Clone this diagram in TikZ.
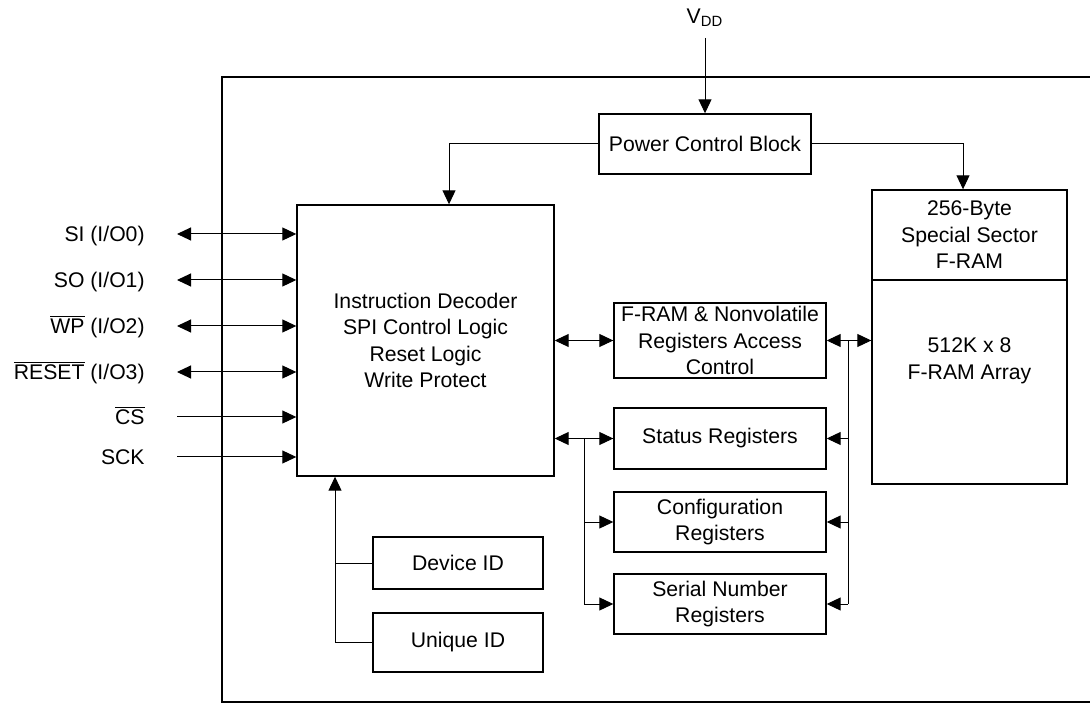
\documentclass[tikz,border=0pt]{standalone}
\usepackage{fontspec}
\setmainfont{Liberation Sans}
\usetikzlibrary{arrows.meta}
\newcommand{\ovl}[1]{$\overline{\hbox{#1}}$}

\begin{document}
\begin{tikzpicture}[x=0.5pt,y=-0.5pt,
    font=\fontsize{10.6}{13.2}\selectfont,
    blk/.style={draw,line width=0.7pt,align=center,inner sep=0pt},
    wire/.style={line width=0.5pt},
    arr/.style={wire,-{Triangle[length=7pt,width=6.5pt]}},
    dbl/.style={wire,{Triangle[length=7pt,width=6.5pt]}-{Triangle[length=7pt,width=6.5pt]}},
    pin/.style={anchor=east,inner sep=0pt,text height=7.6pt,text depth=0pt}]
  \useasboundingbox (0,0) rectangle (1090,704);
  \draw[line width=0.8pt](1090,77)--(222,77)--(222,702)--(1090,702);
  % blocks
  \node[blk,minimum width=106pt,minimum height=30pt](pcb) at (705,144) {Power Control Block};
  \node[blk,minimum width=128.5pt,minimum height=135.5pt](ctl) at (425.5,340.5)
    {Instruction Decoder\\SPI Control Logic\\Reset Logic\\Write Protect};
  \node[blk,minimum width=106pt,minimum height=37.5pt](acc) at (720,340.5)
    {F-RAM \& Nonvolatile\\Registers Access\\Control};
  \node[blk,minimum width=106pt,minimum height=30.5pt](stat) at (720,438.5) {Status Registers};
  \node[blk,minimum width=106pt,minimum height=30pt](cfg) at (720,522) {Configuration\\Registers};
  \node[blk,minimum width=106pt,minimum height=30pt](ser) at (720,604) {Serial Number\\Registers};
  \node[blk,minimum width=97.5pt,minimum height=45pt](sec) at (969.5,235) {256-Byte\\Special Sector\\F-RAM};
  \node[blk,minimum width=97.5pt,minimum height=102pt](arr) at (969.5,382) {};
  \node[align=center](arrtxt) at (969.5,361) {512K x 8\\F-RAM Array};
  \node[blk,minimum width=85pt,minimum height=26pt](dev) at (458,563) {Device ID};
  \node[blk,minimum width=85pt,minimum height=29.5pt](uid) at (458,642.5) {Unique ID};
  % supply
  \node(vdd) at (705,18) {V\textsubscript{DD}};
  \coordinate(vddin) at (705,38);
  \draw[arr](vddin)--(pcb.north);
  \coordinate(pwrL) at (449,0);
  \coordinate(pwrR) at (963,0);
  \draw[arr](pcb.west)-|(pwrL|-ctl.north);
  \draw[arr](pcb.east)-|(pwrR|-sec.north);
  % pins
  \foreach \y/\txt/\st [count=\i] in {234/{SI (I/O0)}/dbl,280/{SO (I/O1)}/dbl,326/{\ovl{WP} (I/O2)}/dbl,
      372/{\ovl{RESET} (I/O3)}/dbl,417/{\ovl{CS}}/arr,457/SCK/arr}{
    \node[pin](p\i) at (145,\y) {\txt};
    \draw[\st]([xshift=16pt]p\i.east)--(p\i.east-|ctl.west);
  }
  % register buses
  \coordinate(lbus) at (584,0);
  \coordinate(rbus) at (848,0);
  \draw[dbl](ctl.east|-acc.west)--(acc.west);
  \draw[dbl](ctl.east|-stat.west)--(stat.west);
  \draw[arr](lbus|-stat.west)|-(cfg.west);
  \draw[arr](lbus|-stat.west)|-(ser.west);
  \draw[dbl](acc.east)--(acc.east-|arr.west);
  \draw[wire](rbus|-acc.east)--(rbus|-ser.east);
  \draw[arr](rbus|-stat.east)--(stat.east);
  \draw[arr](rbus|-cfg.east)--(cfg.east);
  \draw[arr](rbus|-ser.east)--(ser.east);
  % id
  \coordinate(idbus) at (335,0);
  \draw[arr](uid.west)-|(idbus|-ctl.south);
  \draw[wire](dev.west)--(dev.west-|idbus);
\end{tikzpicture}
\end{document}
